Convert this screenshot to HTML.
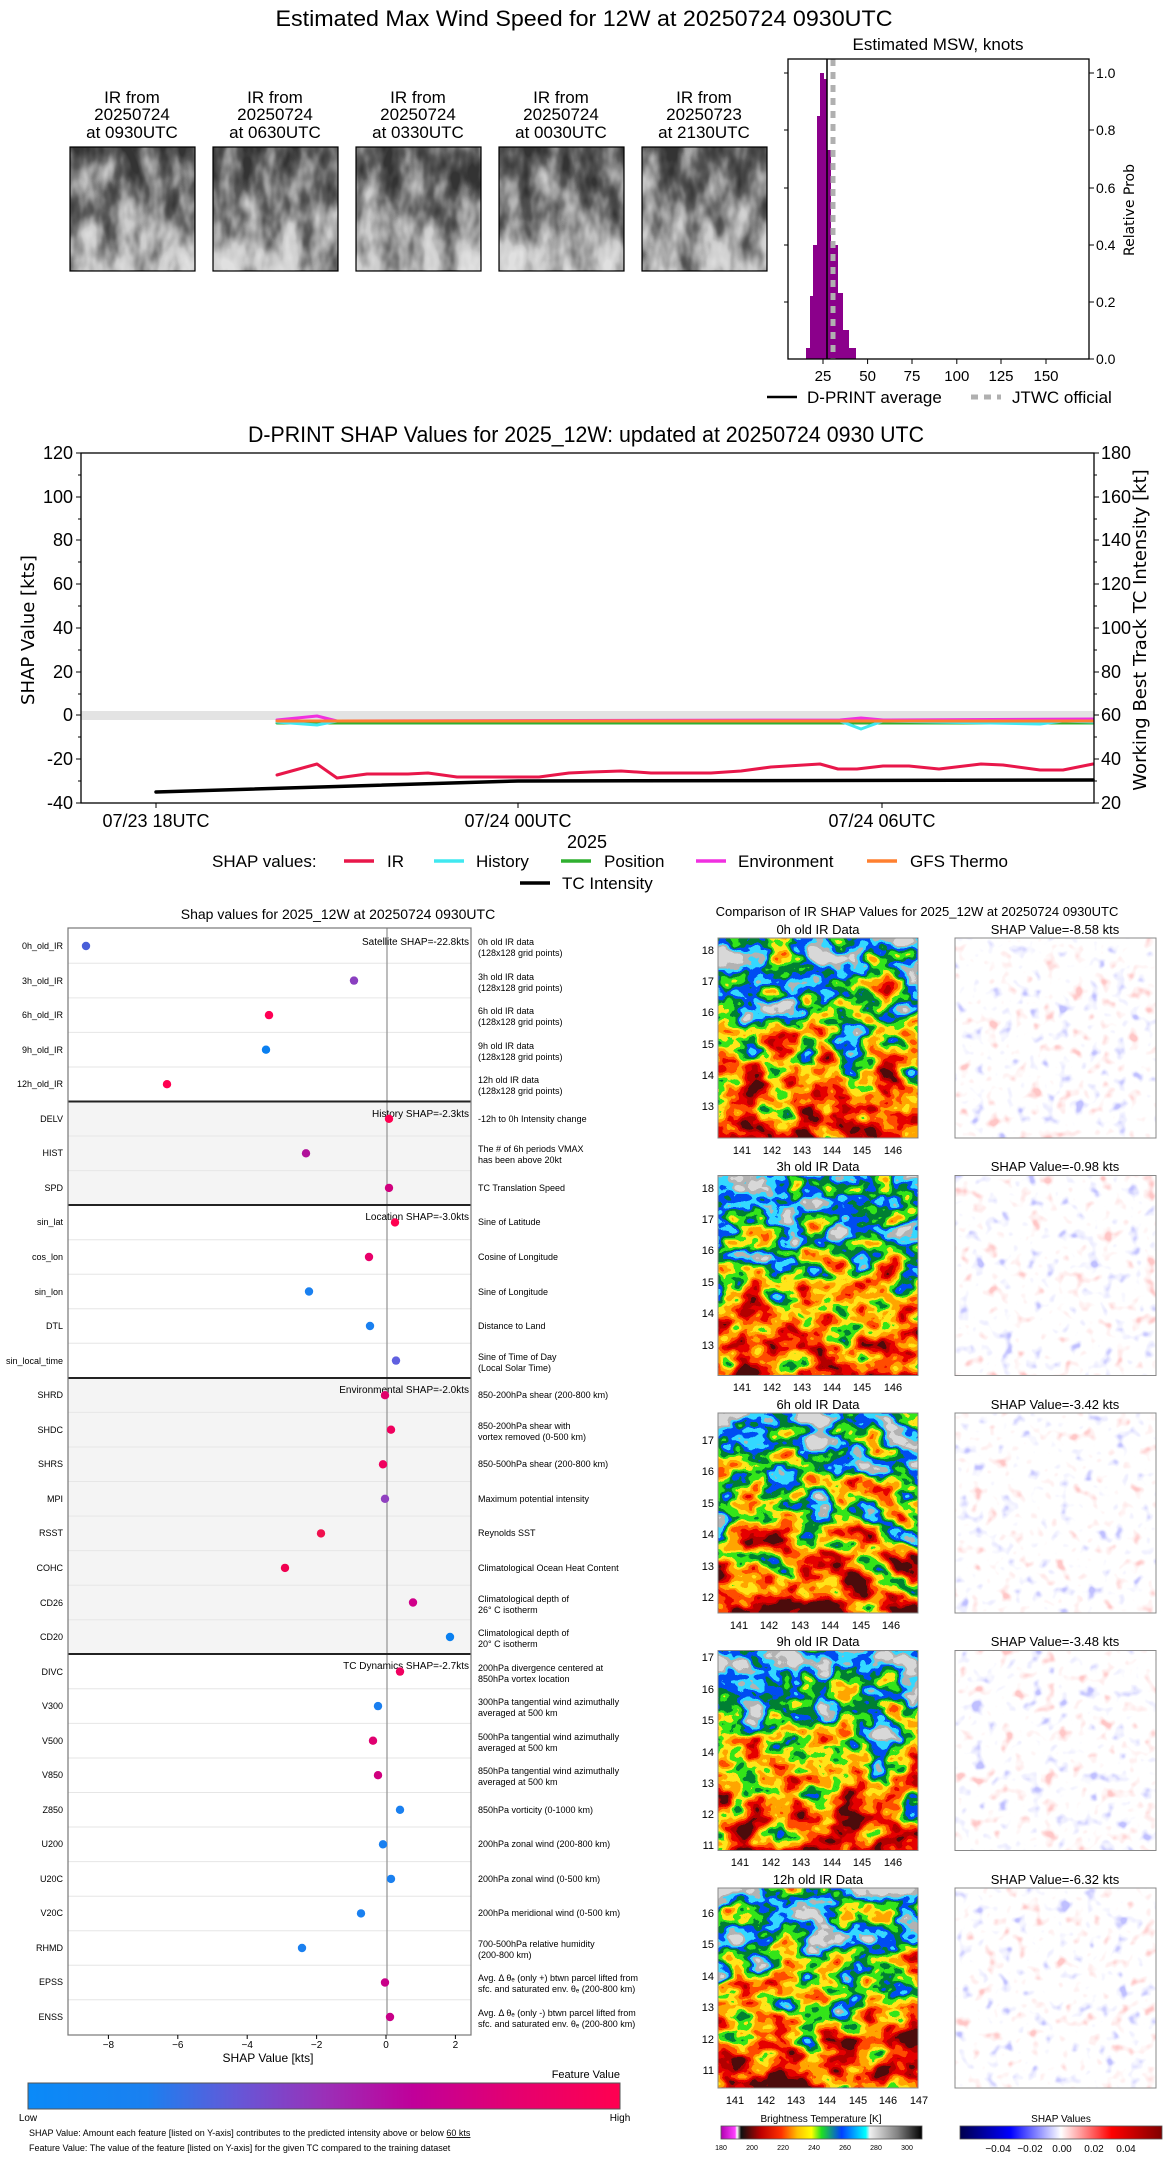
<!DOCTYPE html>
<html><head><meta charset="utf-8"><style>
html,body{margin:0;padding:0;background:#fff}
svg{display:block}
text{font-family:"Liberation Sans","DejaVu Sans",sans-serif;fill:#000}
.dv{font-family:"DejaVu Sans","Liberation Sans",sans-serif}
</style></head><body>
<svg width="1168" height="2158" viewBox="0 0 1168 2158" xmlns="http://www.w3.org/2000/svg">
<defs>
<linearGradient id="gv" x1="0" y1="0" x2="0" y2="1"><stop offset="0" stop-color="#f0f0f0"/><stop offset="0.45" stop-color="#a8a8a8"/><stop offset="1" stop-color="#303030"/></linearGradient>
<linearGradient id="gg" x1="0" y1="0" x2="0" y2="1"><stop offset="0" stop-color="#303030"/><stop offset="0.5" stop-color="#707070"/><stop offset="1" stop-color="#d8d8d8"/></linearGradient>
<linearGradient id="gw" x1="0" y1="0" x2="0" y2="1"><stop offset="0" stop-color="#808080"/><stop offset="1" stop-color="#808080"/></linearGradient>
<filter id="ir1" x="0" y="0" width="1" height="1" color-interpolation-filters="sRGB">
<feTurbulence type="fractalNoise" baseFrequency="0.03 0.04" numOctaves="3" seed="3" result="t"/>
<feColorMatrix in="t" type="matrix" values="1 0 0 0 0 1 0 0 0 0 1 0 0 0 0 0 0 0 0 1" result="n"/>
<feComposite in="SourceGraphic" in2="n" operator="arithmetic" k2="0.75" k3="1.3" k4="-0.6" result="m"/>
<feColorMatrix in="m" type="matrix" values="1 0 0 0 0 1 0 0 0 0 1 0 0 0 0 0 0 0 0 1"/>
<feComponentTransfer>
<feFuncR type="discrete" tableValues="0.3 0.7 0.9 1 1 1 0.2 0 0 0.2 0.7 0.85"/>
<feFuncG type="discrete" tableValues="0.05 0 0 0.3 0.65 0.9 0.9 0.5 0.3 0.85 0.7 0.85"/>
<feFuncB type="discrete" tableValues="0.05 0 0 0 0 0.1 0.1 0.2 0.95 1 0.7 0.85"/>
</feComponentTransfer>
</filter>
<filter id="ir2" x="0" y="0" width="1" height="1" color-interpolation-filters="sRGB">
<feTurbulence type="fractalNoise" baseFrequency="0.03 0.04" numOctaves="3" seed="11" result="t"/>
<feColorMatrix in="t" type="matrix" values="1 0 0 0 0 1 0 0 0 0 1 0 0 0 0 0 0 0 0 1" result="n"/>
<feComposite in="SourceGraphic" in2="n" operator="arithmetic" k2="0.75" k3="1.3" k4="-0.6" result="m"/>
<feColorMatrix in="m" type="matrix" values="1 0 0 0 0 1 0 0 0 0 1 0 0 0 0 0 0 0 0 1"/>
<feComponentTransfer>
<feFuncR type="discrete" tableValues="0.3 0.7 0.9 1 1 1 0.2 0 0 0.2 0.7 0.85"/>
<feFuncG type="discrete" tableValues="0.05 0 0 0.3 0.65 0.9 0.9 0.5 0.3 0.85 0.7 0.85"/>
<feFuncB type="discrete" tableValues="0.05 0 0 0 0 0.1 0.1 0.2 0.95 1 0.7 0.85"/>
</feComponentTransfer>
</filter>
<filter id="ir3" x="0" y="0" width="1" height="1" color-interpolation-filters="sRGB">
<feTurbulence type="fractalNoise" baseFrequency="0.03 0.04" numOctaves="3" seed="27" result="t"/>
<feColorMatrix in="t" type="matrix" values="1 0 0 0 0 1 0 0 0 0 1 0 0 0 0 0 0 0 0 1" result="n"/>
<feComposite in="SourceGraphic" in2="n" operator="arithmetic" k2="0.75" k3="1.3" k4="-0.6" result="m"/>
<feColorMatrix in="m" type="matrix" values="1 0 0 0 0 1 0 0 0 0 1 0 0 0 0 0 0 0 0 1"/>
<feComponentTransfer>
<feFuncR type="discrete" tableValues="0.3 0.7 0.9 1 1 1 0.2 0 0 0.2 0.7 0.85"/>
<feFuncG type="discrete" tableValues="0.05 0 0 0.3 0.65 0.9 0.9 0.5 0.3 0.85 0.7 0.85"/>
<feFuncB type="discrete" tableValues="0.05 0 0 0 0 0.1 0.1 0.2 0.95 1 0.7 0.85"/>
</feComponentTransfer>
</filter>
<filter id="gr" x="0" y="0" width="1" height="1" color-interpolation-filters="sRGB">
<feTurbulence type="fractalNoise" baseFrequency="0.05 0.025" numOctaves="3" seed="5" result="t"/>
<feColorMatrix in="t" type="matrix" values="1 0 0 0 0 1 0 0 0 0 1 0 0 0 0 0 0 0 0 1" result="n"/>
<feComposite in="SourceGraphic" in2="n" operator="arithmetic" k2="0.8" k3="1.2" k4="-0.55" result="m"/>
<feColorMatrix in="m" type="matrix" values="1 0 0 0 0 1 0 0 0 0 1 0 0 0 0 0 0 0 0 1"/>
<feComponentTransfer>
<feFuncR type="table" tableValues="0.2 0.35 0.6 0.8 0.88"/>
<feFuncG type="table" tableValues="0.2 0.35 0.6 0.8 0.88"/>
<feFuncB type="table" tableValues="0.2 0.35 0.6 0.8 0.88"/>
</feComponentTransfer>
</filter>
<filter id="sh" x="0" y="0" width="1" height="1" color-interpolation-filters="sRGB">
<feTurbulence type="fractalNoise" baseFrequency="0.07" numOctaves="2" seed="8" result="t"/>
<feColorMatrix in="t" type="matrix" values="1 0 0 0 0 1 0 0 0 0 1 0 0 0 0 0 0 0 0 1" result="n"/>
<feComposite in="SourceGraphic" in2="n" operator="arithmetic" k2="0.5" k3="1.6" k4="-0.55" result="m"/>
<feColorMatrix in="m" type="matrix" values="1 0 0 0 0 1 0 0 0 0 1 0 0 0 0 0 0 0 0 1"/>
<feComponentTransfer>
<feFuncR type="table" tableValues="0.75 0.93 1 1 1 1 1"/>
<feFuncG type="table" tableValues="0.75 0.93 1 1 1 0.93 0.78"/>
<feFuncB type="table" tableValues="1 1 1 1 1 0.93 0.78"/>
</feComponentTransfer>
</filter>
<linearGradient id="fv" x1="0" x2="1"><stop offset="0" stop-color="#0a8af8"/><stop offset="0.2" stop-color="#1a80f0"/><stop offset="0.35" stop-color="#6458d8"/><stop offset="0.5" stop-color="#9a30b8"/><stop offset="0.65" stop-color="#c0009a"/><stop offset="0.82" stop-color="#e40070"/><stop offset="1" stop-color="#ff0050"/></linearGradient>
<linearGradient id="bt" x1="0" x2="1"><stop offset="0" stop-color="#b000b0"/><stop offset="0.07" stop-color="#ff40ff"/><stop offset="0.08" stop-color="#ffffff"/><stop offset="0.1" stop-color="#101010"/><stop offset="0.2" stop-color="#c00000"/><stop offset="0.3" stop-color="#ff3000"/><stop offset="0.38" stop-color="#ffc000"/><stop offset="0.45" stop-color="#ffff00"/><stop offset="0.5" stop-color="#20e020"/><stop offset="0.6" stop-color="#0040ff"/><stop offset="0.72" stop-color="#00ffff"/><stop offset="0.74" stop-color="#f0f0f0"/><stop offset="0.88" stop-color="#808080"/><stop offset="1" stop-color="#000000"/></linearGradient>
<linearGradient id="sv" x1="0" x2="1"><stop offset="0" stop-color="#00004c"/><stop offset="0.25" stop-color="#0000ff"/><stop offset="0.5" stop-color="#ffffff"/><stop offset="0.75" stop-color="#ff0000"/><stop offset="1" stop-color="#800000"/></linearGradient>
</defs>

<!-- ============ SECTION 1 ============ -->
<text x="584" y="26" font-size="22" text-anchor="middle" textLength="617" lengthAdjust="spacingAndGlyphs">Estimated Max Wind Speed for 12W at 20250724 0930UTC</text>
<g font-size="17" text-anchor="middle">
<text x="132" y="103">IR from</text><text x="132" y="120">20250724</text><text x="132" y="138">at 0930UTC</text>
<text x="275" y="103">IR from</text><text x="275" y="120">20250724</text><text x="275" y="138">at 0630UTC</text>
<text x="418" y="103">IR from</text><text x="418" y="120">20250724</text><text x="418" y="138">at 0330UTC</text>
<text x="561" y="103">IR from</text><text x="561" y="120">20250724</text><text x="561" y="138">at 0030UTC</text>
<text x="704" y="103">IR from</text><text x="704" y="120">20250723</text><text x="704" y="138">at 2130UTC</text>
</g>
<g stroke="#000" stroke-width="1.2">
<rect x="70" y="147" width="125" height="124" fill="url(#gg)" filter="url(#gr)"/>
<rect x="213" y="147" width="125" height="124" fill="url(#gg)" filter="url(#gr)"/>
<rect x="356" y="147" width="125" height="124" fill="url(#gg)" filter="url(#gr)"/>
<rect x="499" y="147" width="125" height="124" fill="url(#gg)" filter="url(#gr)"/>
<rect x="642" y="147" width="125" height="124" fill="url(#gg)" filter="url(#gr)"/>
</g>
<g fill="none" stroke="#000" stroke-width="1.2">
<rect x="70" y="147" width="125" height="124"/><rect x="213" y="147" width="125" height="124"/><rect x="356" y="147" width="125" height="124"/><rect x="499" y="147" width="125" height="124"/><rect x="642" y="147" width="125" height="124"/>
</g>
<!-- histogram -->
<text x="938" y="50" font-size="17" text-anchor="middle">Estimated MSW, knots</text>
<g fill="#8b008b">
<rect x="806" y="348" width="4" height="11"/><rect x="810" y="296" width="3" height="63"/><rect x="813" y="245" width="4" height="114"/><rect x="817" y="116" width="3" height="243"/><rect x="820" y="73" width="4" height="286"/><rect x="824" y="79" width="3" height="280"/><rect x="827" y="150" width="4" height="209"/><rect x="831" y="245" width="3" height="114"/><rect x="834" y="245" width="4" height="114"/><rect x="838" y="293" width="5" height="66"/><rect x="843" y="330" width="6" height="29"/><rect x="849" y="348" width="7" height="11"/>
</g>
<line x1="827" y1="59" x2="827" y2="359" stroke="#000" stroke-width="1.5"/>
<line x1="833" y1="59" x2="833" y2="359" stroke="#b0b0b0" stroke-width="5" stroke-dasharray="7,6"/>
<rect x="788" y="59" width="301" height="300" fill="none" stroke="#000" stroke-width="1.3"/>
<g stroke="#000" stroke-width="1">
<line x1="823" y1="359" x2="823" y2="364"/><line x1="867.6" y1="359" x2="867.6" y2="364"/><line x1="912" y1="359" x2="912" y2="364"/><line x1="956.8" y1="359" x2="956.8" y2="364"/><line x1="1001" y1="359" x2="1001" y2="364"/><line x1="1046" y1="359" x2="1046" y2="364"/>
<line x1="1089" y1="359" x2="1094" y2="359"/><line x1="1089" y1="302" x2="1094" y2="302"/><line x1="1089" y1="245" x2="1094" y2="245"/><line x1="1089" y1="188" x2="1094" y2="188"/><line x1="1089" y1="130" x2="1094" y2="130"/><line x1="1089" y1="73" x2="1094" y2="73"/>
<line x1="788" y1="302" x2="784" y2="302"/><line x1="788" y1="245" x2="784" y2="245"/><line x1="788" y1="188" x2="784" y2="188"/><line x1="788" y1="130" x2="784" y2="130"/><line x1="788" y1="73" x2="784" y2="73"/>
</g>
<g font-size="15" text-anchor="middle">
<text x="823" y="381">25</text><text x="867.6" y="381">50</text><text x="912" y="381">75</text><text x="956.8" y="381">100</text><text x="1001" y="381">125</text><text x="1046" y="381">150</text>
</g>
<g font-size="14">
<text x="1096" y="364">0.0</text><text x="1096" y="307">0.2</text><text x="1096" y="250">0.4</text><text x="1096" y="193">0.6</text><text x="1096" y="135">0.8</text><text x="1096" y="78">1.0</text>
</g>
<text class="dv" transform="translate(1134,210) rotate(-90)" font-size="14" text-anchor="middle">Relative Prob</text>
<line x1="767" y1="397" x2="797" y2="397" stroke="#000" stroke-width="2.5"/>
<text x="807" y="403" font-size="17">D-PRINT average</text>
<line x1="971" y1="397" x2="1001" y2="397" stroke="#b0b0b0" stroke-width="5" stroke-dasharray="7,6"/>
<text x="1012" y="403" font-size="17">JTWC official</text>

<!-- ============ SECTION 2 ============ -->
<text x="586" y="442" font-size="22" text-anchor="middle" textLength="676" lengthAdjust="spacingAndGlyphs">D-PRINT SHAP Values for 2025_12W: updated at 20250724 0930 UTC</text>
<rect x="81" y="711" width="1013" height="9" fill="#e3e3e3"/>
<g fill="none" stroke-linejoin="round" stroke-linecap="round">
<polyline stroke="#30b030" stroke-width="3" points="277,723 1093,723"/>
<polyline stroke="#40e8f0" stroke-width="3" points="277,722 317,725 337,721 840,721 861,729 883,721 1040,724 1063,721 1093,722"/>
<polyline stroke="#f030e0" stroke-width="3" points="277,720 317,716 337,721 840,720 861,718 883,720 1093,719"/>
<polyline stroke="#ff8030" stroke-width="3" points="277,721 1093,721"/>
<polyline stroke="#e8174a" stroke-width="3" points="277,775 317,764 337,778 367,774 408,774 428,773 457,777 539,777 569,773 591,772 621,771 651,773 711,773 741,771 771,767 820,764 838,769 857,769 883,766 909,766 939,769 981,764 1003,765 1040,770 1063,770 1093,764"/>
<polyline stroke="#000" stroke-width="3.5" points="156,792 518,781 1093,780"/>
</g>
<rect x="81" y="453" width="1013" height="350" fill="none" stroke="#000" stroke-width="1.3"/>
<g stroke="#000" stroke-width="1">
<line x1="76" y1="453" x2="81" y2="453"/><line x1="76" y1="497" x2="81" y2="497"/><line x1="76" y1="540" x2="81" y2="540"/><line x1="76" y1="584" x2="81" y2="584"/><line x1="76" y1="628" x2="81" y2="628"/><line x1="76" y1="672" x2="81" y2="672"/><line x1="76" y1="715" x2="81" y2="715"/><line x1="76" y1="759" x2="81" y2="759"/><line x1="76" y1="803" x2="81" y2="803"/>
<line x1="78" y1="475" x2="81" y2="475"/><line x1="78" y1="519" x2="81" y2="519"/><line x1="78" y1="562" x2="81" y2="562"/><line x1="78" y1="606" x2="81" y2="606"/><line x1="78" y1="650" x2="81" y2="650"/><line x1="78" y1="694" x2="81" y2="694"/><line x1="78" y1="737" x2="81" y2="737"/><line x1="78" y1="781" x2="81" y2="781"/>
<line x1="1094" y1="453" x2="1099" y2="453"/><line x1="1094" y1="497" x2="1099" y2="497"/><line x1="1094" y1="540" x2="1099" y2="540"/><line x1="1094" y1="584" x2="1099" y2="584"/><line x1="1094" y1="628" x2="1099" y2="628"/><line x1="1094" y1="672" x2="1099" y2="672"/><line x1="1094" y1="715" x2="1099" y2="715"/><line x1="1094" y1="759" x2="1099" y2="759"/><line x1="1094" y1="803" x2="1099" y2="803"/>
<line x1="1094" y1="475" x2="1097" y2="475"/><line x1="1094" y1="519" x2="1097" y2="519"/><line x1="1094" y1="562" x2="1097" y2="562"/><line x1="1094" y1="606" x2="1097" y2="606"/><line x1="1094" y1="650" x2="1097" y2="650"/><line x1="1094" y1="694" x2="1097" y2="694"/><line x1="1094" y1="737" x2="1097" y2="737"/><line x1="1094" y1="781" x2="1097" y2="781"/>
<line x1="156" y1="803" x2="156" y2="808"/><line x1="518" y1="803" x2="518" y2="808"/><line x1="882" y1="803" x2="882" y2="808"/>
</g>
<g font-size="18" text-anchor="end">
<text x="73" y="459">120</text><text x="73" y="503">100</text><text x="73" y="546">80</text><text x="73" y="590">60</text><text x="73" y="634">40</text><text x="73" y="678">20</text><text x="73" y="721">0</text><text x="73" y="765">-20</text><text x="73" y="809">-40</text>
</g>
<g font-size="18">
<text x="1101" y="459">180</text><text x="1101" y="503">160</text><text x="1101" y="546">140</text><text x="1101" y="590">120</text><text x="1101" y="634">100</text><text x="1101" y="678">80</text><text x="1101" y="721">60</text><text x="1101" y="765">40</text><text x="1101" y="809">20</text>
</g>
<text class="dv" transform="translate(34,630) rotate(-90)" font-size="18" text-anchor="middle">SHAP Value [kts]</text>
<text class="dv" transform="translate(1146,630) rotate(-90)" font-size="18" text-anchor="middle">Working Best Track TC Intensity [kt]</text>
<g font-size="18" text-anchor="middle">
<text x="156" y="827">07/23 18UTC</text><text x="518" y="827">07/24 00UTC</text><text x="882" y="827">07/24 06UTC</text>
<text x="587" y="848">2025</text>
</g>
<g font-size="17">
<text x="212" y="867">SHAP values:</text>
<line x1="344" y1="861" x2="374" y2="861" stroke="#e8174a" stroke-width="3.5"/><text x="387" y="867">IR</text>
<line x1="434" y1="861" x2="464" y2="861" stroke="#40e8f0" stroke-width="3.5"/><text x="476" y="867">History</text>
<line x1="561" y1="861" x2="591" y2="861" stroke="#30b030" stroke-width="3.5"/><text x="604" y="867">Position</text>
<line x1="696" y1="861" x2="726" y2="861" stroke="#f030e0" stroke-width="3.5"/><text x="738" y="867">Environment</text>
<line x1="867" y1="861" x2="897" y2="861" stroke="#ff8030" stroke-width="3.5"/><text x="910" y="867">GFS Thermo</text>
<line x1="520" y1="883" x2="550" y2="883" stroke="#000" stroke-width="3.5"/><text x="562" y="889">TC Intensity</text>
</g>

<!-- ============ SECTION 3 left ============ -->
<text x="338" y="919" font-size="14" text-anchor="middle">Shap values for 2025_12W at 20250724 0930UTC</text>
<rect x="68" y="1101.5" width="403" height="103.5" fill="#f4f4f4"/>
<rect x="68" y="1378" width="403" height="276" fill="#f4f4f4"/>
<g stroke="#e6e6e6" stroke-width="1">
<line x1="68" y1="963.3" x2="471" y2="963.3"/><line x1="68" y1="997.9" x2="471" y2="997.9"/><line x1="68" y1="1032.4" x2="471" y2="1032.4"/><line x1="68" y1="1067" x2="471" y2="1067"/>
<line x1="68" y1="1136" x2="471" y2="1136"/><line x1="68" y1="1170.6" x2="471" y2="1170.6"/>
<line x1="68" y1="1239.7" x2="471" y2="1239.7"/><line x1="68" y1="1274.2" x2="471" y2="1274.2"/><line x1="68" y1="1308.8" x2="471" y2="1308.8"/><line x1="68" y1="1343.3" x2="471" y2="1343.3"/>
<line x1="68" y1="1412.4" x2="471" y2="1412.4"/><line x1="68" y1="1447" x2="471" y2="1447"/><line x1="68" y1="1481.5" x2="471" y2="1481.5"/><line x1="68" y1="1516.1" x2="471" y2="1516.1"/><line x1="68" y1="1550.6" x2="471" y2="1550.6"/><line x1="68" y1="1585.2" x2="471" y2="1585.2"/><line x1="68" y1="1619.7" x2="471" y2="1619.7"/>
<line x1="68" y1="1688.8" x2="471" y2="1688.8"/><line x1="68" y1="1723.4" x2="471" y2="1723.4"/><line x1="68" y1="1758" x2="471" y2="1758"/><line x1="68" y1="1792.5" x2="471" y2="1792.5"/><line x1="68" y1="1827" x2="471" y2="1827"/><line x1="68" y1="1861.6" x2="471" y2="1861.6"/><line x1="68" y1="1896.2" x2="471" y2="1896.2"/><line x1="68" y1="1930.7" x2="471" y2="1930.7"/><line x1="68" y1="1965.3" x2="471" y2="1965.3"/><line x1="68" y1="1999.8" x2="471" y2="1999.8"/>
</g>
<line x1="387" y1="928" x2="387" y2="2035" stroke="#999" stroke-width="1.3"/>
<g stroke="#222" stroke-width="2">
<line x1="68" y1="1101.5" x2="471" y2="1101.5"/><line x1="68" y1="1205" x2="471" y2="1205"/><line x1="68" y1="1378" x2="471" y2="1378"/><line x1="68" y1="1654" x2="471" y2="1654"/>
</g>
<rect x="68" y="928" width="403" height="1107" fill="none" stroke="#777" stroke-width="1.2"/>
<g font-size="10" text-anchor="end" fill="#000">
<text x="469" y="945">Satellite SHAP=-22.8kts</text>
<text x="469" y="1117">History SHAP=-2.3kts</text>
<text x="469" y="1220">Location SHAP=-3.0kts</text>
<text x="469" y="1393">Environmental SHAP=-2.0kts</text>
<text x="469" y="1669">TC Dynamics SHAP=-2.7kts</text>
</g>
<g>
<circle cx="86" cy="946" r="4.2" fill="#4a5fd8"/>
<circle cx="354" cy="980.6" r="4.2" fill="#8a3fc0"/>
<circle cx="269" cy="1015.1" r="4.2" fill="#ff0055"/>
<circle cx="266" cy="1049.7" r="4.2" fill="#0a7ff0"/>
<circle cx="167" cy="1084.2" r="4.2" fill="#ff0050"/>
<circle cx="389" cy="1118.8" r="4.2" fill="#ff0050"/>
<circle cx="306" cy="1153.3" r="4.2" fill="#b0109a"/>
<circle cx="389" cy="1187.9" r="4.2" fill="#d0007e"/>
<circle cx="395" cy="1222.4" r="4.2" fill="#ff0050"/>
<circle cx="369" cy="1257" r="4.2" fill="#e8006a"/>
<circle cx="309" cy="1291.5" r="4.2" fill="#1a80f0"/>
<circle cx="370" cy="1326" r="4.2" fill="#1a80f0"/>
<circle cx="396" cy="1360.6" r="4.2" fill="#6060e0"/>
<circle cx="385" cy="1395.2" r="4.2" fill="#e0006a"/>
<circle cx="391" cy="1429.7" r="4.2" fill="#f0005e"/>
<circle cx="383" cy="1464.3" r="4.2" fill="#f0005e"/>
<circle cx="385" cy="1498.8" r="4.2" fill="#9040c0"/>
<circle cx="321" cy="1533.4" r="4.2" fill="#f0104e"/>
<circle cx="285" cy="1567.9" r="4.2" fill="#f00050"/>
<circle cx="413" cy="1602.5" r="4.2" fill="#d0008a"/>
<circle cx="450" cy="1637" r="4.2" fill="#0a80f0"/>
<circle cx="400" cy="1671.6" r="4.2" fill="#f00060"/>
<circle cx="378" cy="1706.1" r="4.2" fill="#1a7ff0"/>
<circle cx="373" cy="1740.7" r="4.2" fill="#e00070"/>
<circle cx="378" cy="1775.2" r="4.2" fill="#d0007e"/>
<circle cx="400" cy="1809.8" r="4.2" fill="#1a80f0"/>
<circle cx="383" cy="1844.3" r="4.2" fill="#1a80f0"/>
<circle cx="391" cy="1878.9" r="4.2" fill="#1a80f0"/>
<circle cx="361" cy="1913.4" r="4.2" fill="#1a80f0"/>
<circle cx="302" cy="1948" r="4.2" fill="#1a80f0"/>
<circle cx="385" cy="1982.5" r="4.2" fill="#c80088"/>
<circle cx="390" cy="2017" r="4.2" fill="#c80088"/>
</g>
<g font-size="9" text-anchor="end">
<text x="63" y="949">0h_old_IR</text><text x="63" y="984">3h_old_IR</text><text x="63" y="1018">6h_old_IR</text><text x="63" y="1053">9h_old_IR</text><text x="63" y="1087">12h_old_IR</text>
<text x="63" y="1122">DELV</text><text x="63" y="1156">HIST</text><text x="63" y="1191">SPD</text>
<text x="63" y="1225">sin_lat</text><text x="63" y="1260">cos_lon</text><text x="63" y="1295">sin_lon</text><text x="63" y="1329">DTL</text><text x="63" y="1364">sin_local_time</text>
<text x="63" y="1398">SHRD</text><text x="63" y="1433">SHDC</text><text x="63" y="1467">SHRS</text><text x="63" y="1502">MPI</text><text x="63" y="1536">RSST</text><text x="63" y="1571">COHC</text><text x="63" y="1606">CD26</text><text x="63" y="1640">CD20</text>
<text x="63" y="1675">DIVC</text><text x="63" y="1709">V300</text><text x="63" y="1744">V500</text><text x="63" y="1778">V850</text><text x="63" y="1813">Z850</text><text x="63" y="1847">U200</text><text x="63" y="1882">U20C</text><text x="63" y="1916">V20C</text><text x="63" y="1951">RHMD</text><text x="63" y="1985">EPSS</text><text x="63" y="2020">ENSS</text>
</g>
<g font-size="9">
<text x="478" y="945">0h old IR data</text><text x="478" y="956">(128x128 grid points)</text>
<text x="478" y="980">3h old IR data</text><text x="478" y="991">(128x128 grid points)</text>
<text x="478" y="1014">6h old IR data</text><text x="478" y="1025">(128x128 grid points)</text>
<text x="478" y="1049">9h old IR data</text><text x="478" y="1060">(128x128 grid points)</text>
<text x="478" y="1083">12h old IR data</text><text x="478" y="1094">(128x128 grid points)</text>
<text x="478" y="1122">-12h to 0h Intensity change</text>
<text x="478" y="1152">The # of 6h periods VMAX</text><text x="478" y="1163">has been above 20kt</text>
<text x="478" y="1191">TC Translation Speed</text>
<text x="478" y="1225">Sine of Latitude</text>
<text x="478" y="1260">Cosine of Longitude</text>
<text x="478" y="1295">Sine of Longitude</text>
<text x="478" y="1329">Distance to Land</text>
<text x="478" y="1360">Sine of Time of Day</text><text x="478" y="1371">(Local Solar Time)</text>
<text x="478" y="1398">850-200hPa shear (200-800 km)</text>
<text x="478" y="1429">850-200hPa shear with</text><text x="478" y="1440">vortex removed (0-500 km)</text>
<text x="478" y="1467">850-500hPa shear (200-800 km)</text>
<text x="478" y="1502">Maximum potential intensity</text>
<text x="478" y="1536">Reynolds SST</text>
<text x="478" y="1571">Climatological Ocean Heat Content</text>
<text x="478" y="1602">Climatological depth of</text><text x="478" y="1613">26° C isotherm</text>
<text x="478" y="1636">Climatological depth of</text><text x="478" y="1647">20° C isotherm</text>
<text x="478" y="1671">200hPa divergence centered at</text><text x="478" y="1682">850hPa vortex location</text>
<text x="478" y="1705">300hPa tangential wind azimuthally</text><text x="478" y="1716">averaged at 500 km</text>
<text x="478" y="1740">500hPa tangential wind azimuthally</text><text x="478" y="1751">averaged at 500 km</text>
<text x="478" y="1774">850hPa tangential wind azimuthally</text><text x="478" y="1785">averaged at 500 km</text>
<text x="478" y="1813">850hPa vorticity (0-1000 km)</text>
<text x="478" y="1847">200hPa zonal wind (200-800 km)</text>
<text x="478" y="1882">200hPa zonal wind (0-500 km)</text>
<text x="478" y="1916">200hPa meridional wind (0-500 km)</text>
<text x="478" y="1947">700-500hPa relative humidity</text><text x="478" y="1958">(200-800 km)</text>
<text x="478" y="1981">Avg. Δ θₑ (only +) btwn parcel lifted from</text><text x="478" y="1992">sfc. and saturated env. θₑ (200-800 km)</text>
<text x="478" y="2016">Avg. Δ θₑ (only -) btwn parcel lifted from</text><text x="478" y="2027">sfc. and saturated env. θₑ (200-800 km)</text>
</g>
<g stroke="#000" stroke-width="1">
<line x1="108.4" y1="2035" x2="108.4" y2="2039"/><line x1="177.8" y1="2035" x2="177.8" y2="2039"/><line x1="247.2" y1="2035" x2="247.2" y2="2039"/><line x1="316.6" y1="2035" x2="316.6" y2="2039"/><line x1="386" y1="2035" x2="386" y2="2039"/><line x1="455.4" y1="2035" x2="455.4" y2="2039"/>
</g>
<g font-size="10" text-anchor="middle">
<text x="108.4" y="2048">−8</text><text x="177.8" y="2048">−6</text><text x="247.2" y="2048">−4</text><text x="316.6" y="2048">−2</text><text x="386" y="2048">0</text><text x="455.4" y="2048">2</text>
</g>
<text x="268" y="2062" font-size="12" text-anchor="middle">SHAP Value [kts]</text>
<text x="620" y="2078" font-size="11" text-anchor="end">Feature Value</text>
<rect x="28" y="2083" width="592" height="26" fill="url(#fv)" stroke="#555" stroke-width="1"/>
<text x="28" y="2121" font-size="10" text-anchor="middle">Low</text>
<text x="620" y="2121" font-size="10" text-anchor="middle">High</text>
<text x="29" y="2136" font-size="9">SHAP Value: Amount each feature [listed on Y-axis] contributes to the predicted intensity above or below <tspan text-decoration="underline">60 kts</tspan></text>
<text x="29" y="2151" font-size="9">Feature Value: The value of the feature [listed on Y-axis] for the given TC compared to the training dataset</text>

<!-- ============ SECTION 3 right ============ -->
<text x="917" y="916" font-size="13" text-anchor="middle">Comparison of IR SHAP Values for 2025_12W at 20250724 0930UTC</text>
<g font-size="13" text-anchor="middle">
<text x="818" y="934">0h old IR Data</text><text x="1055" y="934">SHAP Value=-8.58 kts</text>
<text x="818" y="1171">3h old IR Data</text><text x="1055" y="1171">SHAP Value=-0.98 kts</text>
<text x="818" y="1409">6h old IR Data</text><text x="1055" y="1409">SHAP Value=-3.42 kts</text>
<text x="818" y="1646">9h old IR Data</text><text x="1055" y="1646">SHAP Value=-3.48 kts</text>
<text x="818" y="1884">12h old IR Data</text><text x="1055" y="1884">SHAP Value=-6.32 kts</text>
</g>
<g stroke="#888" stroke-width="1">
<rect x="718" y="938" width="200" height="200" fill="url(#gv)" filter="url(#ir1)"/>
<rect x="718" y="1175.5" width="200" height="200" fill="url(#gv)" filter="url(#ir2)"/>
<rect x="718" y="1413" width="200" height="200" fill="url(#gv)" filter="url(#ir3)"/>
<rect x="718" y="1650.5" width="200" height="200" fill="url(#gv)" filter="url(#ir1)"/>
<rect x="718" y="1888" width="200" height="200" fill="url(#gv)" filter="url(#ir2)"/>
<rect x="955" y="938" width="201" height="200" fill="url(#gw)" filter="url(#sh)"/>
<rect x="955" y="1175.5" width="201" height="200" fill="url(#gw)" filter="url(#sh)"/>
<rect x="955" y="1413" width="201" height="200" fill="url(#gw)" filter="url(#sh)"/>
<rect x="955" y="1650.5" width="201" height="200" fill="url(#gw)" filter="url(#sh)"/>
<rect x="955" y="1888" width="201" height="200" fill="url(#gw)" filter="url(#sh)"/>
</g>
<g fill="none" stroke="#888" stroke-width="1">
<rect x="718" y="938" width="200" height="200"/><rect x="718" y="1175.5" width="200" height="200"/><rect x="718" y="1413" width="200" height="200"/><rect x="718" y="1650.5" width="200" height="200"/><rect x="718" y="1888" width="200" height="200"/>
<rect x="955" y="938" width="201" height="200"/><rect x="955" y="1175.5" width="201" height="200"/><rect x="955" y="1413" width="201" height="200"/><rect x="955" y="1650.5" width="201" height="200"/><rect x="955" y="1888" width="201" height="200"/>
</g>
<g font-size="11" text-anchor="end" fill="#222">
<text x="714" y="954">18</text><text x="714" y="985">17</text><text x="714" y="1016">16</text><text x="714" y="1048">15</text><text x="714" y="1079">14</text><text x="714" y="1110">13</text>
<text x="714" y="1192">18</text><text x="714" y="1223">17</text><text x="714" y="1254">16</text><text x="714" y="1286">15</text><text x="714" y="1317">14</text><text x="714" y="1349">13</text>
<text x="714" y="1444">17</text><text x="714" y="1475">16</text><text x="714" y="1507">15</text><text x="714" y="1538">14</text><text x="714" y="1570">13</text><text x="714" y="1601">12</text>
<text x="714" y="1661">17</text><text x="714" y="1693">16</text><text x="714" y="1724">15</text><text x="714" y="1756">14</text><text x="714" y="1787">13</text><text x="714" y="1818">12</text><text x="714" y="1849">11</text>
<text x="714" y="1917">16</text><text x="714" y="1948">15</text><text x="714" y="1980">14</text><text x="714" y="2011">13</text><text x="714" y="2043">12</text><text x="714" y="2074">11</text>
</g>
<g font-size="11" text-anchor="middle" fill="#222">
<text x="742" y="1154">141</text><text x="772" y="1154">142</text><text x="802" y="1154">143</text><text x="832" y="1154">144</text><text x="862" y="1154">145</text><text x="893" y="1154">146</text>
<text x="742" y="1391">141</text><text x="772" y="1391">142</text><text x="802" y="1391">143</text><text x="832" y="1391">144</text><text x="862" y="1391">145</text><text x="893" y="1391">146</text>
<text x="739" y="1629">141</text><text x="769" y="1629">142</text><text x="800" y="1629">143</text><text x="830" y="1629">144</text><text x="861" y="1629">145</text><text x="891" y="1629">146</text>
<text x="740" y="1866">141</text><text x="771" y="1866">142</text><text x="801" y="1866">143</text><text x="832" y="1866">144</text><text x="862" y="1866">145</text><text x="893" y="1866">146</text>
<text x="735" y="2104">141</text><text x="766" y="2104">142</text><text x="796" y="2104">143</text><text x="827" y="2104">144</text><text x="858" y="2104">145</text><text x="888" y="2104">146</text><text x="919" y="2104">147</text>
</g>
<text x="821" y="2122" font-size="10" text-anchor="middle">Brightness Temperature [K]</text>
<rect x="721" y="2126" width="201" height="13" fill="url(#bt)" stroke="#555" stroke-width="0.8"/>
<g font-size="7" text-anchor="middle" fill="#222">
<text x="721" y="2150">180</text><text x="752" y="2150">200</text><text x="783" y="2150">220</text><text x="814" y="2150">240</text><text x="845" y="2150">260</text><text x="876" y="2150">280</text><text x="907" y="2150">300</text>
</g>
<text x="1061" y="2122" font-size="10" text-anchor="middle">SHAP Values</text>
<rect x="960" y="2126" width="202" height="13" fill="url(#sv)" stroke="#555" stroke-width="0.8"/>
<g font-size="10" text-anchor="middle" fill="#222">
<text x="998" y="2152">−0.04</text><text x="1030" y="2152">−0.02</text><text x="1062" y="2152">0.00</text><text x="1094" y="2152">0.02</text><text x="1126" y="2152">0.04</text>
</g>
</svg>
</body></html>
